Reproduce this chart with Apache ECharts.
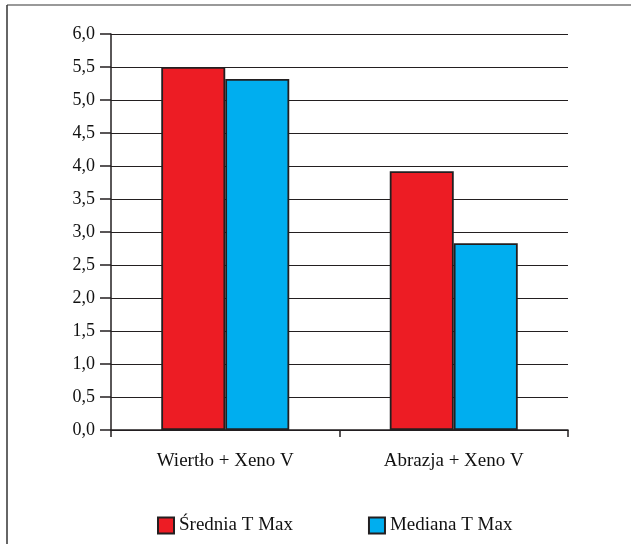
<!DOCTYPE html>
<html lang="pl">
  <head>
    <meta charset="UTF-8" />
    <title>T Max</title>
    <script src="https://cdn.jsdelivr.net/npm/echarts@6/dist/echarts.min.js"></script>
    <style>
      body { margin: 0; background: #fff; }
      #main { width: 631px; height: 544px; }
    </style>
  </head>
  <body>
    <div id="main"></div>
    <script>
      // dane
      const categories = ["Wiertło + Xeno V", "Abrazja + Xeno V"];
      const sredniaTMax = [5.5, 3.92];
      const medianaTMax = [5.32, 2.83];
      const seriesNames = ["Średnia T Max", "Mediana T Max"];

      const font = "Liberation Serif";
      const chart = echarts.init(document.getElementById("main"));

      chart.setOption({
        animation: false,
        textStyle: { fontFamily: font },
        graphic: [
          // ramka: górna i lewa krawędź
          { type: "line", shape: { x1: 7, y1: 5, x2: 631, y2: 5 }, style: { stroke: "#777", lineWidth: 1.5 } },
          { type: "line", shape: { x1: 7, y1: 5, x2: 7, y2: 544 }, style: { stroke: "#333", lineWidth: 1.5 } }
        ],
        legend: {
          left: 152,
          top: 511,
          itemWidth: 16,
          itemHeight: 16,
          itemGap: 75,
          textStyle: { fontFamily: font, fontSize: 19, color: "#111" },
          data: seriesNames.map(n => ({ name: n, icon: "rect" }))
        },
        grid: { left: 111, right: 63, top: 34, bottom: 114 },
        xAxis: {
          type: "category",
          data: categories,
          axisLine: { lineStyle: { color: "#231f20", width: 1.5 } },
          axisTick: { show: true, length: 7, lineStyle: { color: "#231f20", width: 1.5 } },
          axisLabel: { margin: 22, fontSize: 19, color: "#111", fontFamily: font }
        },
        yAxis: {
          type: "value",
          min: 0,
          max: 6,
          interval: 0.5,
          axisLine: { show: true, lineStyle: { color: "#231f20", width: 1.5 } },
          axisTick: { show: true, length: 11, lineStyle: { color: "#231f20", width: 1.5 } },
          axisLabel: {
            margin: 16,
            fontSize: 18,
            color: "#111",
            fontFamily: font,
            formatter: v => v.toFixed(1).replace(".", ",")
          },
          splitLine: { lineStyle: { color: "#231f20", width: 1.2 } }
        },
        series: [
          {
            name: seriesNames[0],
            type: "bar",
            data: sredniaTMax,
            barWidth: 64,
            barGap: "0%",
            itemStyle: { color: "#ed1c24", borderColor: "#231f20", borderWidth: 1.8 }
          },
          {
            name: seriesNames[1],
            type: "bar",
            data: medianaTMax,
            barWidth: 64,
            itemStyle: { color: "#00aeef", borderColor: "#231f20", borderWidth: 1.8 }
          }
        ]
      });
    </script>
  </body>
</html>
